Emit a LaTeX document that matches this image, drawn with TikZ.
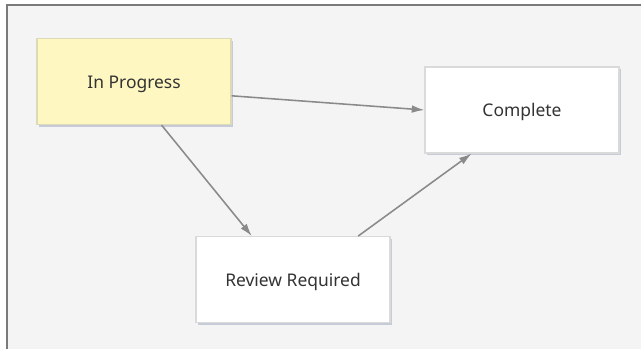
\documentclass[tikz,border=0pt]{standalone}
\usepackage{fontspec}
\setmainfont{Noto Sans}
\usetikzlibrary{positioning, arrows.meta, shadows}

\definecolor{panelbg}{HTML}{F4F4F4}
\definecolor{panelrule}{HTML}{7A7A7A}
\definecolor{notefill}{HTML}{FFF7C2}
\definecolor{noteline}{HTML}{DDDAB8}
\definecolor{boxline}{HTML}{DADADA}
\definecolor{edgegray}{HTML}{8A8A8A}
\definecolor{txtgray}{HTML}{333333}
\definecolor{shadowblue}{HTML}{B4BACB}

\begin{document}
\begin{tikzpicture}[
      state/.style={rectangle, draw=boxline, fill=white, line width=0.8pt,
        minimum width=4.85cm, minimum height=2.15cm, inner sep=0pt,
        text height=1.2em, text depth=0.25em,
        font=\fontsize{12.4}{15}\selectfont, text=txtgray,
        drop shadow={shadow xshift=1.6pt, shadow yshift=-1.6pt,
        fill=shadowblue, opacity=0.7}},
      active/.style={state, fill=notefill, draw=noteline},
      flow/.style={-{Latex[length=9pt, width=5.5pt]}, draw=edgegray,
        fill=edgegray, line width=1.1pt}
    ]
    \useasboundingbox (0, 0) rectangle (16.025, -8.725);
    % === Panel ===
    \fill[panelbg] (0.175, -0.125) rectangle (16.025, -8.725);
    \draw[panelrule, line width=1.5pt] (0.175, -8.725) -- (0.175, -0.125)
    -- (16.025, -0.125);
    % === States ===
    \node[active] (prog) at (3.35, -2.04) {In Progress};
    \node[state] (done) at (13.05, -2.75) {Complete};
    \node[state] (rev) at (7.325, -6.99) {Review Required};
    % === Transitions ===
    \draw[flow] ([yshift=-0.355cm]prog.east) -- (done.west);
    \draw[flow] ([xshift=0.69cm]prog.south) -- ([xshift=-1.03cm]rev.north);
    \draw[flow] ([xshift=1.63cm]rev.north) -- ([xshift=-1.26cm]done.south);
  \end{tikzpicture}
\end{document}
